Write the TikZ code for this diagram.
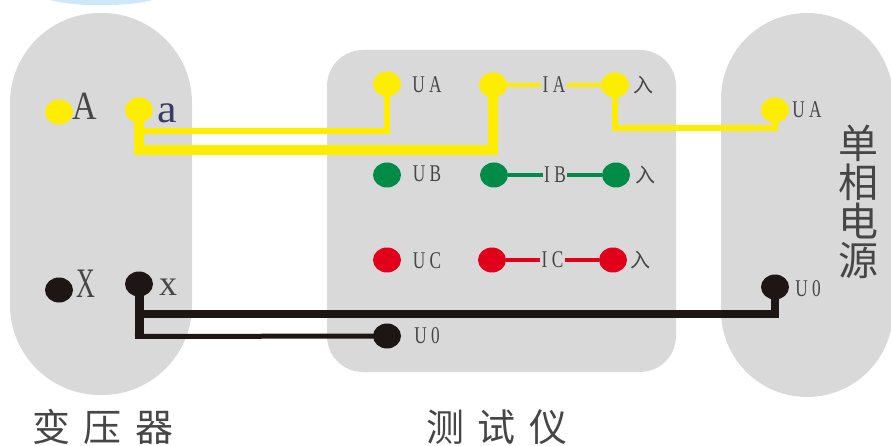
\documentclass[tikz,border=0pt]{standalone}
\usepackage{fontspec}
\usetikzlibrary{shapes.geometric,backgrounds}
\setmainfont{Liberation Serif}
\newfontfamily\cjk{Noto Sans CJK SC}
\definecolor{panelgray}{RGB}{217,217,217}
\definecolor{wireyellow}{RGB}{255,237,0}
\definecolor{wiregreen}{RGB}{0,140,70}
\definecolor{wirered}{RGB}{225,0,25}
\definecolor{wireblack}{RGB}{30,22,20}
\definecolor{textgray}{RGB}{70,70,70}
\tikzset{
  panel/.style={fill=panelgray, draw=none},
  port/.style={ellipse, fill=#1, draw=none, minimum width=28pt, minimum height=25pt, inner sep=0pt},
  wire/.style={draw=#1, line join=miter},
  tag/.style={font=\fontsize{24}{24}\selectfont, text=textgray, inner sep=0pt, xscale=.72},
  midtag/.style={tag, fill=panelgray, inner xsep=2pt, inner ysep=1pt},
  rutag/.style={font=\cjk\fontsize{20}{20}\selectfont, text=textgray, inner sep=0pt},
  bigtag/.style={text=textgray, inner sep=0pt},
  title/.style={font=\cjk\fontsize{38}{38}\selectfont, text=textgray, inner sep=0pt},
}
\begin{document}
\begin{tikzpicture}[x=1pt,y=-1pt]
\useasboundingbox (0,0) rectangle (891,446);
% ports
\node (A) [port=wireyellow] at (59,112) {};
\node (a) [port=wireyellow] at (139,110) {};
\node (X) [port=wireblack] at (59,290) {};
\node (x) [port=wireblack] at (139,284) {};
\node (UA) [port=wireyellow] at (387,84) {};
\node (IA) [port=wireyellow] at (493,85) {};
\node (RA) [port=wireyellow] at (615,85) {};
\node (UB) [port=wiregreen] at (387,175) {};
\node (IB) [port=wiregreen] at (494,175) {};
\node (RB) [port=wiregreen] at (616,175) {};
\node (UC) [port=wirered] at (387,260) {};
\node (IC) [port=wirered] at (492,260) {};
\node (RC) [port=wirered] at (613,260) {};
\node (UO) [port=wireblack] at (387,336) {};
\node (SA) [port=wireyellow] at (775,110) {};
\node (SO) [port=wireblack] at (775,287) {};
% panels and wires stay behind the ports
\begin{scope}[on background layer]
\fill [fill={rgb,255:red,205;green,232;blue,250}] (50,0) .. controls (75,7) and (125,7) .. (153,0) -- cycle;
\path [panel, rounded corners=90pt] (10,13) rectangle (192,395);
\path [panel, rounded corners=36pt] (327,50) rectangle (676,372);
\path [panel, rounded corners=86pt] (721,13) rectangle (893,397);
\draw [wire=wireyellow, line width=6pt] (a.center) |- (387,131) -- (UA.center);
\draw [wire=wireyellow, line width=9.5pt] (a.center) |- (493,150) -- (IA.center);
\draw [wire=wireyellow, line width=6pt] (RA.center) |- (775,128) -- (SA.center);
\draw [wire=wireblack, line width=8pt] (x.center) |- (775,314) -- (SO.center);
\draw [wire=wireblack, line width=9pt] (x.center) -- (139,339);
\draw [wire=wireblack, line width=5pt] (135,336.5) -- (UO.center);
\draw [wire=wireyellow, line width=4.5pt] (IA) -- node [midtag] {I A} (RA);
\draw [wire=wiregreen, line width=4pt] (IB) -- node [midtag] {I B} (RB);
\draw [wire=wirered, line width=4pt] (IC) -- node [midtag] {I C} (RC);
\end{scope}
% labels
\node (tA) [bigtag, font=\fontsize{40}{40}\selectfont, xscale=.85] at (85,106) {A};
\node (ta) [bigtag, font=\fontsize{40}{40}\selectfont, xscale=1.1, text=textgray!85!blue] at (167,113) {a};
\node (tX) [bigtag, font=\fontsize{42}{42}\selectfont, xscale=.62] at (86,284) {X};
\node (tx) [bigtag, font=\fontsize{36}{36}\selectfont] at (168,287) {x};
\node (tUA) [tag] at (427,85) {U A};
\node (tUB) [tag] at (427,174) {U B};
\node (tUC) [tag] at (427,261) {U C};
\node (tUO) [tag] at (427,336) {U 0};
\node (tRA) [rutag] at (643,85) {入};
\node (tRB) [rutag] at (645,175) {入};
\node (tRC) [rutag] at (640,260) {入};
\node (tSA) [tag] at (807,110) {U A};
\node (tSO) [tag] at (808,289) {U 0};
\node (tS) [title, align=center, font=\cjk\fontsize{40}{39}\selectfont] at (858,202) {单\\相\\电\\源};
\node (tT) [title] at (103,427) {变\hspace{14pt}压\hspace{14pt}器};
\node (tM) [title] at (497,427) {测\hspace{14pt}试\hspace{14pt}仪};
\end{tikzpicture}
\end{document}
